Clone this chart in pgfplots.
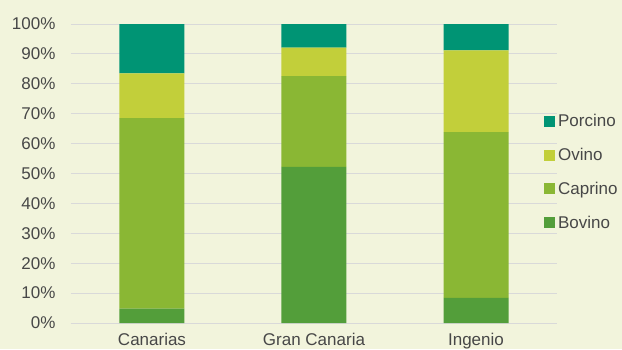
\documentclass[border=0pt]{standalone}
\usepackage{fontspec}
\setmainfont{Liberation Sans}
\usepackage{pgfplots}
\pgfplotsset{compat=1.18}
\definecolor{bg}{HTML}{F2F4DC}
\definecolor{porcino}{HTML}{009474}
\definecolor{ovino}{HTML}{C2CF3A}
\definecolor{caprino}{HTML}{8AB734}
\definecolor{bovino}{HTML}{539E3A}
\definecolor{gridc}{HTML}{D9D9D9}
\definecolor{txt}{HTML}{474747}

\begin{document}
\begin{tikzpicture}[font=\fontsize{17}{20}\selectfont]
% background of the whole chart
\fill[bg] (-71pt,-26pt) rectangle (551pt,323pt);
\begin{axis}[
  at={(0,0)}, anchor=south west,
  scale only axis, width=486pt, height=299pt,
  ybar stacked, bar width=65pt,
  xmin=-0.5, xmax=2.5, ymin=0, ymax=100,
  axis lines*=left,
  y axis line style={draw=none},
  x axis line style={draw=gridc, line width=1pt},
  xtick={0,1,2}, xticklabels={Canarias,Gran Canaria,Ingenio},
  xtick style={draw=none},
  ytick={0,10,...,100},
  ytick style={draw=none},
  yticklabel={\pgfmathprintnumber{\tick}\%},
  /pgf/number format/assume math mode=true,
  ticklabel style={text=txt},
  yticklabel style={xshift=-12pt},
  xticklabel style={yshift=-7pt},
  ymajorgrids, grid style={draw=gridc, line width=1pt},
  extra x ticks={-0.5,0.5,1.5,2.5},
  extra x tick labels={},
  extra x tick style={grid=none, tick align=outside, major tick length=7pt,
    tick style={draw=gridc, line width=1pt}},
  reverse legend,
  legend cell align=left,
  legend image code/.code={\fill[#1] (0pt,-5.5pt) rectangle (11pt,5.5pt);},
  legend style={draw=none, fill=none, text=txt, at={(rel axis cs:0.973,0.505)},
    anchor=west, inner sep=0pt, row sep=20pt,
    nodes={inner xsep=3pt, inner ysep=0pt}},
]
\addplot[fill=bovino, draw=none] coordinates {(0,4.8) (1,52.2) (2,8.4)};
\addplot[fill=caprino, draw=none] coordinates {(0,63.7) (1,30.4) (2,55.4)};
\addplot[fill=ovino, draw=none] coordinates {(0,15.0) (1,9.5) (2,27.4)};
\addplot[fill=porcino, draw=none] coordinates {(0,16.5) (1,7.9) (2,8.8)};
\legend{Bovino,Caprino,Ovino,Porcino}
\end{axis}
\pgfresetboundingbox
\path[use as bounding box] (-71pt,-26pt) rectangle (551pt,323pt);
\end{tikzpicture}
\end{document}
